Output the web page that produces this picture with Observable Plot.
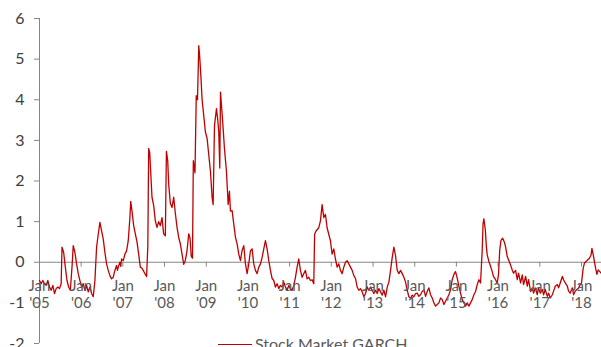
<!DOCTYPE html>
<html><head><meta charset="utf-8">
<script src="https://cdn.jsdelivr.net/npm/d3@7"></script>
<script src="https://cdn.jsdelivr.net/npm/@observablehq/plot@0.6"></script>
<style>
body{margin:0;background:#fff;font-family:Lato,sans-serif}
#wrap{position:relative;width:601px;height:347px;overflow:hidden}
#legend{position:absolute;left:218px;top:334px;display:flex;align-items:center;font-size:16px;line-height:19px;color:#595959;white-space:nowrap}
#legend .sw{display:inline-block;width:34px;height:0;border-top:1.5px solid #c00000;margin-right:3px;margin-top:2px}
</style></head>
<body><div id="wrap"><div id="chart"></div><div id="legend"><span class="sw"></span>Stock Market GARCH</div></div>
<script>
const yTicks = [-2,-1,0,1,2,3,4,5,6];
const yearTicks = [2005,2006,2007,2008,2009,2010,2011,2012,2013,2014,2015,2016,2017,2018];
const seriesName = "Stock Market GARCH";
// [decimal year, value]
const y2005 = [[2005.00,-0.45],[2005.04,-0.53],[2005.08,-0.45],[2005.12,-0.53],[2005.16,-0.57],[2005.20,-0.45],[2005.24,-0.61],[2005.28,-0.69],[2005.32,-0.57],[2005.36,-0.77],[2005.40,-0.65],[2005.44,-0.61],[2005.48,-0.65],[2005.52,-0.53],[2005.54,0.37],[2005.58,0.24],[2005.62,-0.12],[2005.66,-0.45],[2005.70,-0.61],[2005.74,-0.69],[2005.78,-0.12],[2005.81,0.41],[2005.85,0.24],[2005.89,-0.04],[2005.93,-0.28],[2005.97,-0.45]];
const y2006 = [[2006.01,-0.61],[2006.05,-0.53],[2006.09,-0.69],[2006.13,-0.57],[2006.17,-0.73],[2006.21,-0.61],[2006.25,-0.77],[2006.29,-0.85],[2006.33,-0.45],[2006.37,0.37],[2006.41,0.69],[2006.45,0.98],[2006.49,0.77],[2006.53,0.57],[2006.57,0.24],[2006.61,-0.04],[2006.65,-0.2],[2006.69,-0.33],[2006.73,-0.41],[2006.77,-0.37],[2006.79,-0.28],[2006.81,-0.2],[2006.85,-0.08],[2006.87,-0.2],[2006.89,-0.12],[2006.93,0.0],[2006.95,-0.1],[2006.97,0.08]];
const y2007 = [[2007.01,0.04],[2007.05,0.2],[2007.09,0.28],[2007.13,0.53],[2007.17,1.1],[2007.19,1.5],[2007.22,1.26],[2007.26,0.9],[2007.30,0.7],[2007.34,0.5],[2007.38,0.2],[2007.42,-0.12],[2007.46,-0.15],[2007.50,-0.22],[2007.54,-0.3],[2007.57,-0.35],[2007.60,0.4],[2007.62,2.8],[2007.645,2.7],[2007.68,2.0],[2007.70,1.6],[2007.74,1.4],[2007.78,1.02],[2007.82,0.86],[2007.86,1.0],[2007.90,0.9],[2007.94,1.1],[2007.98,0.7]];
const y2008 = [[2008.02,0.65],[2008.046,2.73],[2008.077,2.5],[2008.10,1.93],[2008.14,1.45],[2008.18,1.35],[2008.22,1.6],[2008.26,1.2],[2008.30,0.86],[2008.34,0.61],[2008.38,0.45],[2008.42,0.2],[2008.46,-0.05],[2008.50,0.05],[2008.54,0.29],[2008.58,0.7],[2008.61,0.6],[2008.64,0.15],[2008.67,0.1],[2008.69,2.5],[2008.73,2.2],[2008.76,4.1],[2008.79,4.0],[2008.82,5.33],[2008.84,5.1],[2008.87,4.6],[2008.90,4.0],[2008.93,3.7],[2008.98,3.2]];
const y2009 = [[2009.02,3.05],[2009.06,2.64],[2009.10,2.24],[2009.14,1.59],[2009.165,1.42],[2009.197,3.37],[2009.245,3.78],[2009.276,3.5],[2009.30,3.2],[2009.324,2.32],[2009.341,4.19],[2009.365,3.86],[2009.405,3.29],[2009.436,2.8],[2009.484,2.24],[2009.525,1.42],[2009.556,1.75],[2009.58,1.26],[2009.62,1.27],[2009.66,0.94],[2009.70,0.62],[2009.74,0.45],[2009.78,0.2],[2009.82,0.04],[2009.86,0.29],[2009.90,0.41],[2009.94,-0.04],[2009.98,-0.28]];
const y2010 = [[2010.02,-0.04],[2010.06,0.28],[2010.10,0.33],[2010.14,-0.04],[2010.18,-0.2],[2010.22,-0.28],[2010.26,-0.12],[2010.30,-0.04],[2010.34,0.12],[2010.38,0.33],[2010.42,0.53],[2010.46,0.33],[2010.50,0.04],[2010.54,-0.2],[2010.58,-0.4],[2010.62,-0.45],[2010.66,-0.61],[2010.70,-0.53],[2010.74,-0.65],[2010.78,-0.57],[2010.82,-0.61],[2010.86,-0.49],[2010.90,-0.61],[2010.94,-0.69],[2010.98,-0.57]];
const y2011 = [[2011.02,-0.65],[2011.06,-0.69],[2011.10,-0.57],[2011.14,-0.37],[2011.18,-0.12],[2011.22,0.08],[2011.26,-0.2],[2011.30,-0.37],[2011.34,-0.28],[2011.38,-0.2],[2011.42,-0.41],[2011.46,-0.37],[2011.50,-0.45],[2011.54,-0.43],[2011.58,-0.53],[2011.60,0.69],[2011.635,0.77],[2011.70,0.85],[2011.74,1.02],[2011.78,1.42],[2011.82,1.1],[2011.86,1.18],[2011.90,0.85],[2011.94,0.69],[2011.98,0.53]];
const y2012 = [[2012.02,0.2],[2012.06,0.33],[2012.10,0.08],[2012.14,-0.12],[2012.18,-0.04],[2012.22,-0.2],[2012.26,-0.28],[2012.30,-0.12],[2012.34,0.0],[2012.38,0.04],[2012.42,-0.04],[2012.46,-0.12],[2012.50,-0.2],[2012.54,-0.33],[2012.58,-0.4],[2012.62,-0.61],[2012.66,-0.69],[2012.70,-0.65],[2012.74,-0.73],[2012.78,-0.85],[2012.82,-0.77],[2012.86,-0.61],[2012.90,-0.69],[2012.94,-0.61],[2012.98,-0.69]];
const y2013 = [[2013.02,-0.77],[2013.06,-0.69],[2013.10,-0.77],[2013.14,-0.65],[2013.18,-0.73],[2013.22,-0.81],[2013.26,-0.69],[2013.30,-0.85],[2013.34,-0.61],[2013.38,-0.49],[2013.42,-0.2],[2013.46,0.12],[2013.50,0.37],[2013.54,0.16],[2013.58,-0.2],[2013.62,-0.28],[2013.66,-0.2],[2013.70,-0.28],[2013.74,-0.37],[2013.78,-0.49],[2013.82,-0.69],[2013.86,-0.85],[2013.90,-0.89],[2013.94,-0.81],[2013.98,-0.85]];
const y2014 = [[2014.02,-0.77],[2014.06,-0.76],[2014.10,-0.84],[2014.14,-0.8],[2014.18,-0.72],[2014.22,-0.68],[2014.26,-0.84],[2014.30,-0.72],[2014.34,-0.63],[2014.38,-0.8],[2014.42,-0.88],[2014.46,-1.0],[2014.50,-1.08],[2014.54,-1.04],[2014.58,-1.0],[2014.62,-0.88],[2014.66,-0.92],[2014.70,-1.04],[2014.74,-0.96],[2014.78,-0.88],[2014.82,-0.8],[2014.86,-0.68],[2014.90,-0.43],[2014.94,-0.3],[2014.98,-0.23]];
const y2015 = [[2015.02,-0.39],[2015.06,-0.59],[2015.10,-0.76],[2015.14,-0.92],[2015.18,-1.0],[2015.22,-1.08],[2015.26,-1.0],[2015.30,-1.08],[2015.34,-1.0],[2015.38,-0.92],[2015.42,-0.8],[2015.46,-0.72],[2015.50,-0.55],[2015.54,-0.43],[2015.58,-0.51],[2015.60,-0.1],[2015.62,0.3],[2015.64,0.95],[2015.66,1.07],[2015.695,0.79],[2015.72,0.38],[2015.74,0.18],[2015.78,0.02],[2015.82,-0.1],[2015.86,-0.23],[2015.89,-0.35],[2015.94,-0.43],[2015.98,-0.51]];
const y2016 = [[2016.01,-0.31],[2016.04,0.3],[2016.07,0.54],[2016.11,0.59],[2016.15,0.5],[2016.18,0.38],[2016.22,0.14],[2016.25,0.06],[2016.30,-0.07],[2016.34,-0.19],[2016.37,-0.27],[2016.42,-0.2],[2016.46,-0.43],[2016.49,-0.27],[2016.54,-0.51],[2016.58,-0.31],[2016.61,-0.55],[2016.66,-0.35],[2016.70,-0.59],[2016.73,-0.43],[2016.78,-0.72],[2016.82,-0.63],[2016.85,-0.76],[2016.89,-0.63],[2016.94,-0.8],[2016.97,-0.63]];
const y2017 = [[2017.01,-0.76],[2017.06,-0.67],[2017.09,-0.8],[2017.13,-0.67],[2017.18,-0.84],[2017.21,-0.76],[2017.25,-0.88],[2017.30,-0.8],[2017.33,-0.71],[2017.37,-0.59],[2017.42,-0.55],[2017.45,-0.63],[2017.49,-0.51],[2017.54,-0.35],[2017.57,-0.43],[2017.61,-0.51],[2017.66,-0.59],[2017.69,-0.71],[2017.73,-0.76],[2017.78,-0.63],[2017.81,-0.8],[2017.85,-0.71],[2017.89,-0.67],[2017.93,-0.63],[2017.97,-0.55]];
const y2018 = [[2018.00,-0.51],[2018.04,-0.15],[2018.07,-0.02],[2018.11,0.02],[2018.15,0.06],[2018.19,0.1],[2018.23,0.18],[2018.25,0.34],[2018.29,0.14],[2018.33,-0.1],[2018.37,-0.3],[2018.40,-0.19],[2018.44,-0.23],[2018.47,-0.27]];

const toDate = t => { const y = Math.floor(t); const a = new Date(y,0,1), b = new Date(y+1,0,1); return new Date(+a + (t - y) * (b - a)); };
const data = [].concat(y2005,y2006,y2007,y2008,y2009,y2010,y2011,y2012,y2013,y2014,y2015,y2016,y2017,y2018)
  .map(([t, v]) => ({date: toDate(t), value: v}));
const jans = yearTicks.map(y => new Date(y, 0, 1));
const xStart = toDate(2005.0), xEnd = toDate(2018.48);
const axisGray = "#868686";

const chart = Plot.plot({
  width: 601, height: 347,
  marginLeft: 39, marginRight: 0, marginTop: 18, marginBottom: 4,
  style: {fontFamily: "Lato, sans-serif", background: "#fff"},
  x: {type: "time", domain: [xStart, xEnd], axis: null},
  y: {domain: [-2, 6]},
  marks: [
    Plot.ruleY([0], {stroke: axisGray, strokeWidth: 1}),
    Plot.ruleX([xStart], {stroke: axisGray, strokeWidth: 1}),
    Plot.ruleX(jans, {x: d => d, y1: 0, y2: -0.12, stroke: axisGray}),
    Plot.axisY({ticks: yTicks, tickSize: 5, tickPadding: 10, stroke: axisGray, fill: "#404040", fontSize: 16, label: null, tickFormat: d => String(d)}),
    Plot.line(data, {x: "date", y: "value", stroke: "#c00000", strokeWidth: 1.3, curve: "linear"}),
    Plot.text(jans, {x: d => d, y: 0, text: d => "Jan\n'" + String(d.getFullYear()).slice(2), lineAnchor: "top", dy: 17, fontSize: 15, lineHeight: 1.13, fill: "#595959"})
  ]
});
document.getElementById("chart").appendChild(chart);
</script>
</body></html>
